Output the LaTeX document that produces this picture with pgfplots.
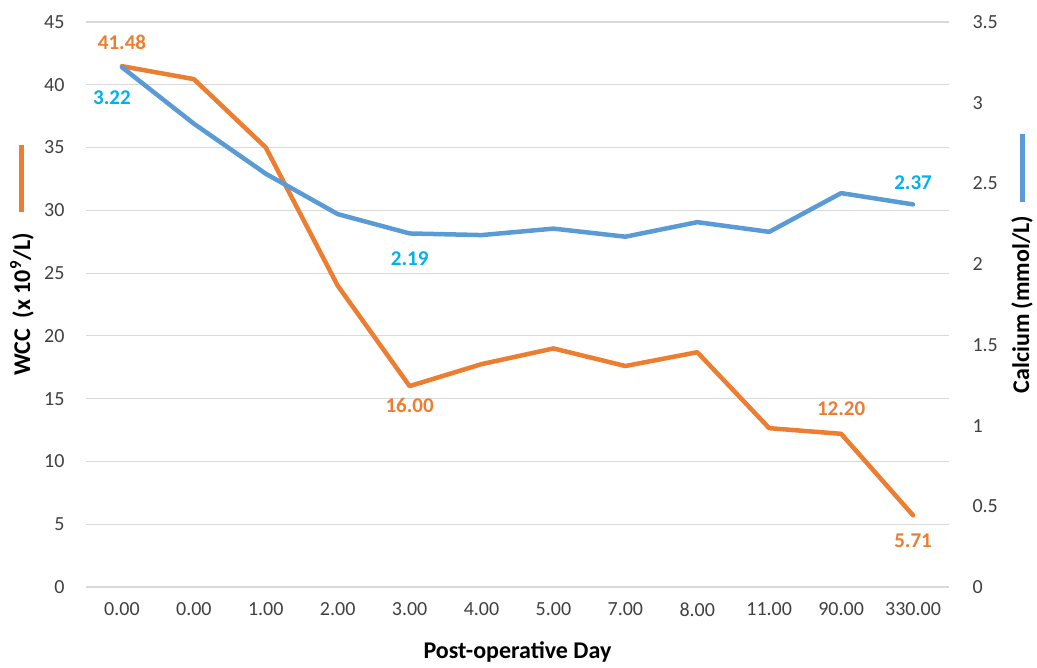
\documentclass[border=0pt]{standalone}
\usepackage{pgfplots}
\pgfplotsset{compat=1.18}
\usepackage{fontspec}
\setmainfont{Carlito}
\definecolor{wcc}{HTML}{ED7D31}
\definecolor{ca}{HTML}{5B9BD5}
\definecolor{calab}{HTML}{00B0F0}
\definecolor{tickgray}{HTML}{404040}
\definecolor{gridgray}{HTML}{D9D9D9}
\newcommand{\fs}{\fontsize{20}{24}\selectfont}
\newcommand{\fd}{\fontsize{21}{25}\selectfont\bfseries}
\newcommand{\fl}{\fontsize{24}{28}\selectfont\bfseries}
\begin{document}
\begin{tikzpicture}
\pgfplotsset{
  common/.style={
    scale only axis, width=863pt, height=565pt,
    at={(0,0)}, anchor=south west,
    xmin=-0.5, xmax=11.5,
    axis line style={draw=none},
    major tick length=0pt,
    tick label style={font=\fs, text=tickgray},
    /pgf/number format/assume math mode=true,
    /pgf/number format/fixed,
    label style={font=\fl, text=black},
  }
}
\begin{axis}[common,
  ymin=0, ymax=45, ytick={0,5,...,45},
  ymajorgrids, grid style={gridgray, line width=1.2pt},
  xtick={0,...,11},
  xticklabels={0.00,0.00,1.00,2.00,3.00,4.00,5.00,7.00,8.00,11.00,90.00,330.00},
  xticklabel style={yshift=-12pt},
  yticklabel style={xshift=-18pt},
  xlabel={Post-operative Day},
  xlabel style={at={(axis description cs:0.5,-0.115)}, anchor=center},
  ylabel={WCC\ \ (x 10\textsuperscript{9}/L)},
  ylabel style={at={(axis description cs:-0.0742,0.5)}, anchor=center, rotate=0},
  clip=false,
]
\addplot[wcc, line width=4.5pt, line join=round, line cap=round] coordinates {
 (0,41.48) (1,40.45) (2,35.0) (3,24.0) (4,16.0) (5,17.75) (6,19.0) (7,17.6) (8,18.7) (9,12.65) (10,12.2) (11,5.71)};
\node[font=\fd, text=wcc] at (axis cs:0,41.48) [yshift=24pt] {41.48};
\node[font=\fd, text=wcc] at (axis cs:4,16.0) [yshift=-19pt] {16.00};
\node[font=\fd, text=wcc] at (axis cs:10,12.2) [yshift=25pt] {12.20};
\node[font=\fd, text=wcc] at (axis cs:11,5.71) [yshift=-25pt] {5.71};
\draw[wcc, line width=5pt] (axis description cs:-0.0742,0.663) -- (axis description cs:-0.0742,0.783);
\end{axis}
\begin{axis}[common,
  ymin=0, ymax=3.5, ytick={0,0.5,...,3.5},
  axis x line=none,
  axis y line*=right,
  yticklabel style={xshift=20pt},
  ylabel={Calcium (mmol/L)},
  ylabel style={at={(axis description cs:1.0846,0.5)}, anchor=center, rotate=0},
  clip=false,
]
\addplot[ca, line width=4.5pt, line join=round, line cap=round] coordinates {
 (0,3.22) (1,2.87) (2,2.56) (3,2.31) (4,2.19) (5,2.18) (6,2.22) (7,2.17) (8,2.26) (9,2.20) (10,2.44) (11,2.37)};
\node[font=\fd, text=calab] at (axis cs:0,3.22) [xshift=-10pt, yshift=-30pt] {3.22};
\node[font=\fd, text=calab] at (axis cs:4,2.19) [yshift=-25pt] {2.19};
\node[font=\fd, text=calab] at (axis cs:11,2.37) [yshift=22pt] {2.37};
\draw[ca, line width=5pt] (axis description cs:1.0846,0.681) -- (axis description cs:1.0846,0.801);
\end{axis}
\pgfresetboundingbox
\path[use as bounding box] (-86pt,-81pt) rectangle (951pt,587pt);
\end{tikzpicture}
\end{document}
